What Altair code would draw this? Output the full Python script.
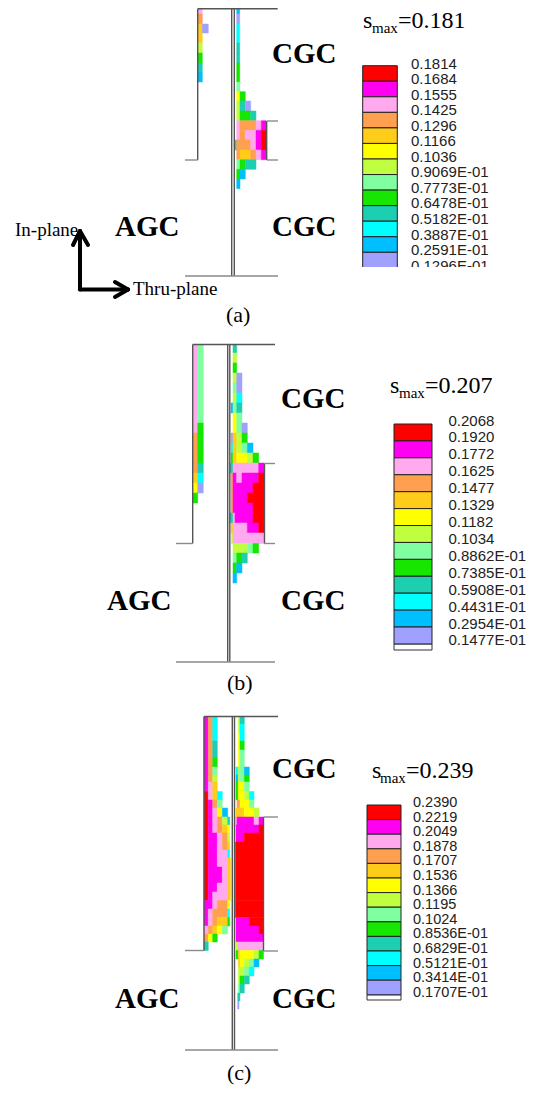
import altair as alt
import pandas as pd

LEVELS = ["lav", "blu", "cya", "tea", "grn", "mnt", "lim", "yel", "gol", "ora", "pin", "mag", "red"]
COLORS = ["#A0A0FF", "#00BFFF", "#00FFFF", "#1CCFB0", "#16E600", "#80FFA0", "#BFFF3F",
          "#FFFF00", "#FFCC1A", "#FF9F50", "#FFAAEE", "#FF00F0", "#FF0000"]

# contour cells: (top, bottom, [(left, right, level), ...])
cells_a = [
    (8.5, 14, [(198, 202.3, "pin"), (236.7, 239.7, "blu")]),
    (14, 24, [(198, 202.3, "ora"), (236.7, 239.7, "lav")]),
    (24, 33, [(198, 202.3, "gol"), (202.3, 208.3, "lav"), (236.7, 239.7, "cya")]),
    (33, 43, [(198, 202.3, "gol"), (236.7, 239.7, "cya")]),
    (43, 53, [(198, 202.3, "lim"), (236.7, 239.7, "tea")]),
    (53, 63, [(198, 202.3, "grn"), (236.7, 239.7, "tea")]),
    (63, 72, [(198, 202.3, "tea"), (236.7, 239.7, "grn")]),
    (72, 82, [(198, 202.3, "blu"), (236.7, 239.7, "grn")]),
    (82, 91.7, [(236.7, 240, "mnt")]),
    (91.7, 101, [(236.7, 240, "yel"), (240, 245.3, "grn")]),
    (101, 111, [(236.7, 240, "lim"), (240, 245.3, "tea"), (245.3, 250.7, "lav")]),
    (111, 120.7, [(236.7, 240, "lim"), (240, 250.7, "grn"), (250.7, 256, "tea")]),
    (120.7, 130.3, [(236.7, 240, "pin"), (240, 256, "ora"), (256, 261.3, "pin"), (261.3, 266, "mag")]),
    (130.3, 140, [(236.7, 240, "pin"), (240, 245.3, "ora"), (245.3, 256, "pin"), (256, 261.3, "mag"), (261.3, 266, "red")]),
    (140, 150, [(235, 236.7, "tea"), (236.7, 250.7, "ora"), (250.7, 256, "pin"), (256, 261.3, "mag"), (261.3, 266, "red")]),
    (150, 159.7, [(236.7, 240, "ora"), (240, 250.7, "gol"), (250.7, 256, "ora"), (256, 261.3, "pin"), (261.3, 266, "mag")]),
    (159.7, 169.3, [(236.7, 240, "mnt"), (240, 245.3, "grn"), (245.3, 256, "tea")]),
    (169.3, 179, [(236.7, 240, "grn"), (240, 245.3, "blu")]),
    (179, 188.7, [(236.7, 240, "blu")]),
]

cells_b = [
    (344.5, 353, [(193, 197.7, "pin"), (197.7, 203.3, "mnt"), (233, 236.7, "tea")]),
    (353, 363, [(193, 197.7, "pin"), (197.7, 203.3, "mnt"), (233, 236.7, "lim")]),
    (363, 373, [(193, 197.7, "pin"), (197.7, 203.3, "mnt"), (233, 236.7, "grn")]),
    (373, 383, [(193, 197.7, "pin"), (197.7, 203.3, "mnt"), (233, 236.7, "lim"), (236.7, 242, "lav")]),
    (383, 393, [(193, 197.7, "pin"), (197.7, 203.3, "mnt"), (233, 236.7, "mnt"), (236.7, 242, "lav")]),
    (393, 403, [(193, 197.7, "pin"), (197.7, 203.3, "mnt"), (233, 236.7, "lim"), (236.7, 242, "cya")]),
    (403, 413, [(193, 197.7, "pin"), (197.7, 203.3, "mnt"), (231, 233, "blu"), (233, 236.7, "mnt"), (236.7, 242, "tea")]),
    (413, 423, [(193, 197.7, "pin"), (197.7, 203.3, "mnt"), (233, 236.7, "yel"), (236.7, 242, "mnt")]),
    (423, 433, [(193, 197.7, "pin"), (197.7, 203.3, "grn"), (233, 236.7, "yel"), (236.7, 242, "mnt"), (242, 247.3, "lav")]),
    (433, 443, [(193, 197.7, "ora"), (197.7, 203.3, "grn"), (231, 233, "lav"), (233, 236.7, "gol"), (236.7, 242, "lim"), (242, 247.3, "grn")]),
    (443, 453, [(193, 197.7, "ora"), (197.7, 203.3, "grn"), (231, 233, "cya"), (233, 236.7, "gol"), (236.7, 242, "lim"), (242, 247.3, "mnt"), (247.3, 253, "blu")]),
    (453, 463, [(193, 197.7, "ora"), (197.7, 203.3, "grn"), (231, 233, "grn"), (233, 236.7, "gol"), (236.7, 247.3, "yel"), (247.3, 253, "lim"), (253, 258.7, "grn")]),
    (463, 473, [(193, 197.7, "ora"), (197.7, 203.3, "tea"), (230, 233, "tea"), (233, 258.7, "pin"), (258.7, 264.3, "mag")]),
    (473, 483, [(193, 197.7, "gol"), (197.7, 203.3, "cya"), (231, 233, "ora"), (233, 236.7, "mag"), (236.7, 242, "pin"), (242, 258.7, "mag"), (258.7, 264.3, "red")]),
    (483, 493, [(193, 197.7, "yel"), (197.7, 203.3, "lav"), (231, 233, "ora"), (233, 253, "mag"), (253, 264.3, "red")]),
    (493, 503, [(193, 197.7, "grn"), (231, 233, "ora"), (233, 247.3, "mag"), (247.3, 264.3, "red")]),
    (503, 513, [(231, 233, "ora"), (233, 253, "mag"), (253, 264.3, "red")]),
    (513, 523, [(230, 233, "tea"), (233, 235, "pin"), (235, 253, "mag"), (253, 264.3, "red")]),
    (523, 533, [(231, 233, "gol"), (233, 247.3, "pin"), (247.3, 258.7, "mag"), (258.7, 264.3, "red")]),
    (533, 543.5, [(231.5, 233, "lim"), (233, 264.3, "pin")]),
    (543.5, 553, [(233, 247.3, "lim"), (247.3, 253, "mnt"), (253, 258.7, "grn")]),
    (553, 563, [(233, 236.7, "mnt"), (236.7, 242, "grn"), (242, 247.3, "tea")]),
    (563, 573, [(233, 236.7, "grn"), (236.7, 242, "blu")]),
    (573, 583, [(233, 236.7, "blu")]),
]

cells_c = [
    (716.5, 724, [(204, 208.3, "mag"), (208.3, 212.7, "ora"), (212.7, 217.3, "cya"), (238.3, 240, "lim"), (240, 244.3, "tea")]),
    (724, 733, [(204, 208.3, "mag"), (208.3, 212.7, "ora"), (212.7, 217.3, "cya"), (238.3, 240, "lim"), (240, 244.3, "cya")]),
    (733, 741, [(204, 208.3, "mag"), (208.3, 212.7, "ora"), (212.7, 217.3, "cya"), (238.3, 240, "yel"), (240, 244.3, "cya")]),
    (741, 750, [(204, 208.3, "mag"), (208.3, 212.7, "ora"), (212.7, 217.3, "tea"), (238.3, 240, "yel"), (240, 244.3, "grn")]),
    (750, 758, [(204, 208.3, "mag"), (208.3, 212.7, "ora"), (212.7, 217.3, "tea"), (238.3, 240, "yel"), (240, 244.3, "mnt")]),
    (758, 767, [(204, 208.3, "mag"), (208.3, 212.7, "ora"), (212.7, 217.3, "grn"), (238.3, 240, "yel"), (240, 244.3, "mnt")]),
    (767, 775, [(204, 208.3, "mag"), (208.3, 212.7, "ora"), (212.7, 217.3, "mnt"), (236, 238.3, "cya"), (238.3, 240, "lim"), (240, 244.3, "mnt"), (244.3, 249.3, "blu")]),
    (775, 782, [(204, 208.3, "mag"), (208.3, 212.7, "ora"), (212.7, 217.3, "lim"), (236, 238.3, "blu"), (238.3, 240, "lim"), (240, 244.3, "mnt"), (244.3, 249.3, "grn")]),
    (782, 791.5, [(204, 208.3, "mag"), (208.3, 212.7, "pin"), (212.7, 217.3, "gol"), (236, 238.3, "grn"), (238.3, 244.3, "yel"), (244.3, 249.3, "mnt")]),
    (791.5, 800, [(204, 208.3, "red"), (208.3, 212.7, "pin"), (212.7, 217.3, "gol"), (217.3, 222.3, "cya"), (236, 238.3, "grn"), (238.3, 244.3, "yel"), (244.3, 249.3, "lim"), (249.3, 254, "cya")]),
    (800, 808, [(204, 208.3, "red"), (208.3, 212.7, "mag"), (212.7, 217.3, "ora"), (217.3, 222.3, "mnt"), (237, 240, "ora"), (240, 249.3, "yel"), (249.3, 254, "mnt")]),
    (808, 817, [(204, 208.3, "red"), (208.3, 212.7, "mag"), (212.7, 217.3, "pin"), (217.3, 222.3, "yel"), (222.3, 227.7, "blu"), (236, 244.3, "gol"), (244.3, 254, "yel"), (254, 259, "lim")]),
    (817, 825, [(204, 208.3, "red"), (208.3, 212.7, "mag"), (212.7, 217.3, "pin"), (217.3, 222.3, "ora"), (222.3, 227.7, "lim"), (227.7, 229.7, "tea"), (235.5, 237, "pin"), (237, 254, "mag"), (254, 259, "pin"), (259, 263.5, "mag")]),
    (825, 833, [(204, 208.3, "red"), (208.3, 212.7, "mag"), (212.7, 217.3, "pin"), (217.3, 222.3, "ora"), (222.3, 227.7, "gol"), (227.7, 229.7, "yel"), (236, 259, "mag"), (259, 263.5, "red")]),
    (833, 842, [(204, 208.3, "red"), (208.3, 217.3, "mag"), (217.3, 222.3, "pin"), (222.3, 227.7, "ora"), (227.7, 229.7, "lim"), (236, 244.3, "mag"), (244.3, 263.5, "red")]),
    (842, 850, [(204, 208.3, "red"), (208.3, 217.3, "mag"), (217.3, 222.3, "pin"), (222.3, 227.7, "ora"), (227.7, 229.7, "gol"), (235.5, 263.5, "red")]),
    (850, 858, [(204, 208.3, "red"), (208.3, 217.3, "mag"), (217.3, 227.7, "pin"), (227.7, 229.7, "cya"), (235.5, 263.5, "red")]),
    (858, 867, [(204, 208.3, "red"), (208.3, 217.3, "mag"), (217.3, 227.7, "pin"), (227.7, 230.5, "gol"), (235.5, 263.5, "red")]),
    (867, 883, [(204, 208.3, "red"), (208.3, 222.3, "mag"), (222.3, 227.7, "pin"), (227.7, 230.5, "gol"), (235.5, 263.5, "red")]),
    (883, 892, [(204, 208.3, "red"), (208.3, 217.3, "mag"), (217.3, 227.7, "pin"), (227.7, 230.5, "gol"), (235.5, 263.5, "red")]),
    (892, 900.5, [(204, 208.3, "red"), (208.3, 212.7, "mag"), (212.7, 227.7, "pin"), (227.7, 230.5, "gol"), (235.5, 263.5, "red")]),
    (900.5, 909, [(204, 212.7, "mag"), (212.7, 217.3, "pin"), (217.3, 227.7, "ora"), (227.7, 229.7, "yel"), (235.5, 263.5, "red")]),
    (909, 917.5, [(204, 208.3, "mag"), (208.3, 212.7, "pin"), (212.7, 227.7, "ora"), (227.7, 229.7, "cya"), (235.5, 263.5, "red")]),
    (917.5, 926, [(204, 208.3, "mag"), (208.3, 212.7, "pin"), (212.7, 217.3, "ora"), (217.3, 227.7, "gol"), (227.7, 229.7, "grn"), (236, 249.3, "mag"), (249.3, 263.5, "red")]),
    (926, 934, [(204, 208.3, "pin"), (208.3, 212.7, "ora"), (212.7, 217.3, "gol"), (217.3, 222.3, "yel"), (222.3, 227.7, "mnt"), (236, 259, "mag"), (259, 263.5, "red")]),
    (934, 942, [(204, 208.3, "ora"), (208.3, 212.7, "yel"), (212.7, 217.3, "grn"), (236, 263.5, "mag")]),
    (942, 950.5, [(204, 208.3, "tea"), (236, 237.7, "lim"), (237.7, 263.5, "pin")]),
    (950.5, 959, [(236, 238.3, "grn"), (238.3, 240, "gol"), (240, 254, "yel"), (254, 259, "lim"), (259, 263.5, "grn")]),
    (959, 967, [(238.3, 240, "gol"), (240, 244.3, "yel"), (244.3, 249.3, "lim"), (249.3, 254, "mnt"), (254, 259, "blu")]),
    (967, 976, [(238.3, 244.3, "lim"), (244.3, 249.3, "mnt"), (249.3, 254, "cya")]),
    (976, 984, [(238.3, 240, "lim"), (240, 244.3, "grn"), (244.3, 249.3, "tea")]),
    (984, 993, [(238.3, 240, "mnt"), (240, 244.3, "tea")]),
    (993, 1001, [(237.7, 240, "tea")]),
    (1001, 1009, [(237.7, 239, "lav")]),
]

# outline segments: (x1, y1, x2, y2)
outline_dark = [
    # (a)
    (197.7, 8.7, 277.7, 8.7), (197.7, 8.7, 197.7, 160), (266.7, 121, 266.7, 160),
    (231.7, 8.7, 231.7, 276), (234.3, 8.7, 234.3, 276),
    # (b)
    (192.7, 344.5, 275, 344.5), (192.7, 344.5, 192.7, 543.5), (264.5, 463.5, 264.5, 543.5),
    (227.7, 344.5, 227.7, 662), (229.8, 344.5, 229.8, 662),
    # (c)
    (204, 716.5, 278, 716.5), (204, 716.5, 204, 950.5), (263.5, 817, 263.5, 951),
    (232.3, 716.5, 232.3, 1050), (234.5, 716.5, 234.5, 1050),
]
outline_light = [
    (185, 160, 197.7, 160), (266.7, 121, 278, 121), (266.7, 160, 278, 160), (185, 276, 278, 276),
    (176, 543.5, 192.7, 543.5), (264.5, 463.5, 275, 463.5), (264.5, 543.5, 275, 543.5), (176, 662, 275, 662),
    (185, 950.5, 204, 950.5), (263.5, 817, 278, 817), (263.5, 951, 278, 951), (185, 1050, 278, 1050),
]
arrows = [
    (80, 289.5, 80, 231), (80, 289.5, 128, 289.5),
    (80, 231, 73, 245), (80, 231, 88, 245),
    (128, 289.5, 115, 282), (128, 289.5, 115, 297),
]

labels_a = ["0.1814", "0.1684", "0.1555", "0.1425", "0.1296", "0.1166", "0.1036", "0.9069E-01",
            "0.7773E-01", "0.6478E-01", "0.5182E-01", "0.3887E-01", "0.2591E-01", "0.1296E-01"]
labels_b = ["0.2068", "0.1920", "0.1772", "0.1625", "0.1477", "0.1329", "0.1182", "0.1034",
            "0.8862E-01", "0.7385E-01", "0.5908E-01", "0.4431E-01", "0.2954E-01", "0.1477E-01"]
labels_c = ["0.2390", "0.2219", "0.2049", "0.1878", "0.1707", "0.1536", "0.1366", "0.1195",
            "0.1024", "0.8536E-01", "0.6829E-01", "0.5121E-01", "0.3414E-01", "0.1707E-01"]

bars = [
    dict(left=362.7, right=397.3, top=65.7, step=15.55, labels=labels_a, lx=411, ly=63.5, fs=15, stub=None),
    dict(left=394, right=432, top=424, step=16.92, labels=labels_b, lx=448.5, ly=420.5, fs=15, stub=650),
    dict(left=367, right=401, top=805, step=14.6, labels=labels_c, lx=413, ly=803, fs=14.5, stub=1000),
]

# free text: (text, x, y, size, weight)
serif_text = [
    ("CGC", 272, 63, 29, "bold"), ("CGC", 272, 236, 29, "bold"), ("AGC", 115, 236, 29, "bold"),
    ("CGC", 281, 408, 29, "bold"), ("CGC", 281, 610, 29, "bold"), ("AGC", 107, 610, 29, "bold"),
    ("CGC", 272, 778, 29, "bold"), ("CGC", 272, 1008, 29, "bold"), ("AGC", 115, 1008, 29, "bold"),
    ("In-plane", 15, 235.5, 19, "normal"), ("Thru-plane", 133, 295, 19, "normal"),
    ("(a)", 226, 322, 22, "normal"), ("(b)", 227, 690, 22, "normal"), ("(c)", 227, 1080, 22, "normal"),
    ("s", 363, 28, 24, "normal"), ("max", 372, 33, 15, "normal"), ("=0.181", 398, 28, 24, "normal"),
    ("s", 390, 393, 24, "normal"), ("max", 399, 398, 15, "normal"), ("=0.207", 425, 393, 24, "normal"),
    ("s", 372, 778, 24, "normal"), ("max", 380, 783, 15, "normal"), ("=0.239", 406, 778, 24, "normal"),
]

X = alt.Scale(domain=[8, 527], range=[0, 519])
Y = alt.Scale(domain=[8, 1085], range=[0, 1077])
COL = alt.Scale(domain=LEVELS, range=COLORS)

rows = []
for panel in (cells_a, cells_b, cells_c):
    for top, bottom, spans in panel:
        for left, right, lvl in spans:
            rows.append(dict(x=left, x2=right, y=top, y2=bottom, lvl=lvl))


def xq(f="x"):
    return alt.X(f"{f}:Q", scale=X, axis=None)


def yq(f="y"):
    return alt.Y(f"{f}:Q", scale=Y, axis=None)


def rects(df, outline=None, **kw):
    stroke = alt.Stroke("lvl:N", scale=COL, legend=None) if outline is None else alt.value(outline)
    return alt.Chart(df).mark_rect(**kw).encode(
        x=xq("x"), x2="x2:Q", y=yq("y"), y2="y2:Q",
        color=alt.Color("lvl:N", scale=COL, legend=None),
        stroke=stroke,
    )


def segs(seg, color, width, **kw):
    df = pd.DataFrame(seg, columns=["x", "y", "x2", "y2"])
    return alt.Chart(df).mark_rule(color=color, strokeWidth=width, **kw).encode(
        x=xq("x"), x2="x2:Q", y=yq("y"), y2="y2:Q")


layers = [
    rects(pd.DataFrame(rows), strokeWidth=0.5),
    segs(outline_dark, "#555555", 1.4),
    segs(outline_light, "#8a8a8a", 1.4),
    segs(arrows, "#000000", 4, strokeCap="round"),
]

bar_rows, stub_rows, lab_rows = [], [], []
for b in bars:
    order = list(reversed(LEVELS))
    for i, lvl in enumerate(order):
        bar_rows.append(dict(x=b["left"], x2=b["right"], y=b["top"] + i * b["step"],
                             y2=b["top"] + (i + 1) * b["step"], lvl=lvl))
    if b["stub"]:
        stub_rows.append(dict(x=b["left"], x2=b["right"], y=b["top"] + 13 * b["step"], y2=b["stub"]))
    for i, t in enumerate(b["labels"]):
        lab_rows.append(dict(x=b["lx"], y=b["ly"] + i * b["step"], t=t, fs=b["fs"]))

layers.append(alt.Chart(pd.DataFrame(stub_rows)).mark_rect(fill="white", stroke="#333333", strokeWidth=1).encode(
    x=xq("x"), x2="x2:Q", y=yq("y"), y2="y2:Q"))
layers.append(rects(pd.DataFrame(bar_rows), outline="#222222", strokeWidth=1))

for fs, g in pd.DataFrame(lab_rows).groupby("fs"):
    layers.append(alt.Chart(g).mark_text(font="Liberation Sans", fontSize=float(fs), align="left",
                                         baseline="middle", color="#222222").encode(
        x=xq("x"), y=yq("y"), text="t:N"))

# the first colour bar is cut off by the frame of its picture
cover = pd.DataFrame([dict(x=355, x2=500, y=267, y2=280)])
layers.append(alt.Chart(cover).mark_rect(fill="white").encode(x=xq("x"), x2="x2:Q", y=yq("y"), y2="y2:Q"))

st = pd.DataFrame(serif_text, columns=["t", "x", "y", "fs", "w"])
for (fs, w), g in st.groupby(["fs", "w"]):
    layers.append(alt.Chart(g).mark_text(font="Liberation Serif", fontSize=int(fs), fontWeight=w, align="left",
                                         baseline="alphabetic", color="#000000").encode(
        x=xq("x"), y=yq("y"), text="t:N"))

chart = alt.layer(*layers).properties(
    width=519, height=1077, padding=0, background="white",
    autosize=alt.AutoSizeParams(type="none"),
).configure_view(stroke=None)

chart.save("out.html", embed_options={"renderer": "svg", "actions": False})
